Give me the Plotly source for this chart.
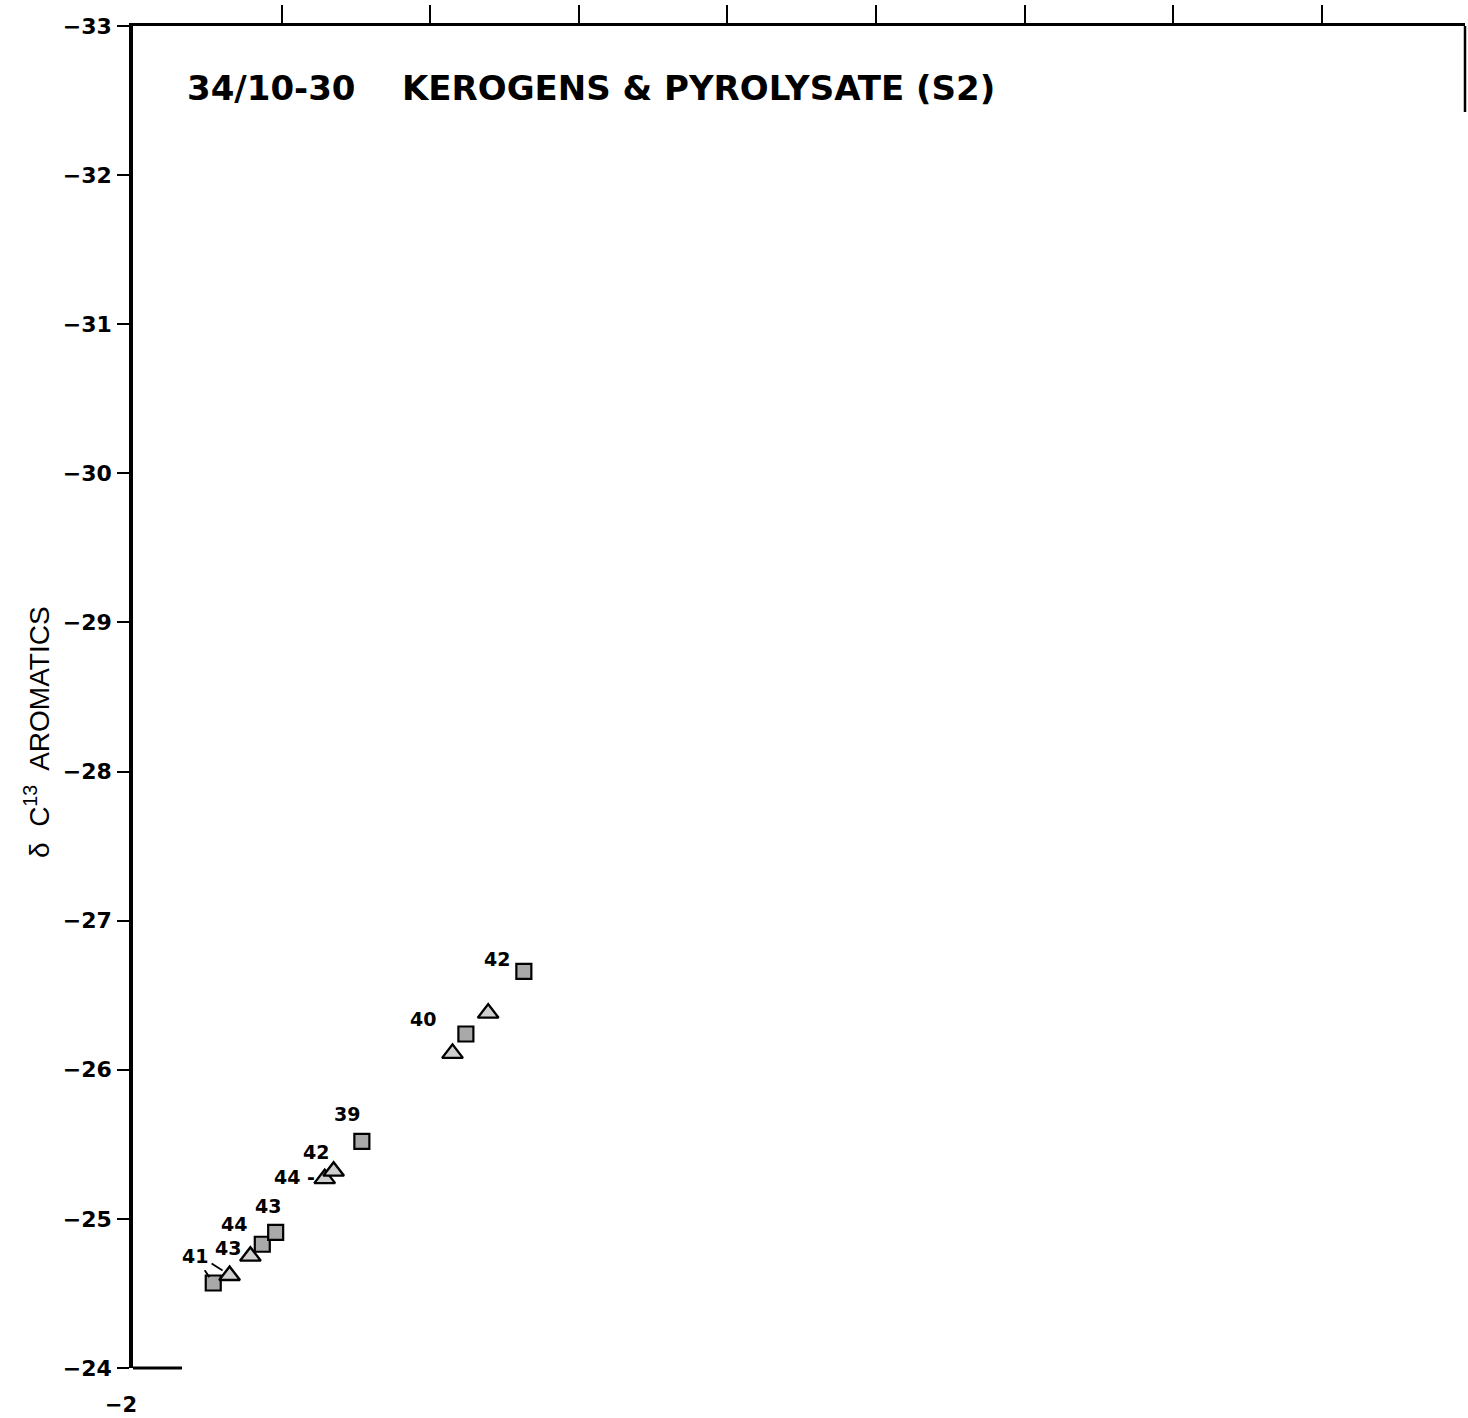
import plotly.graph_objects as go

# ---- data ----
square_x = [-24.54, -24.87, -24.96, -25.54, -26.24, -26.63]
square_y = [-24.57, -24.83, -24.91, -25.52, -26.24, -26.66]
square_labels = ["41", "44", "43", "39", "40", "42"]

triangle_x = [-24.65, -24.79, -25.29, -25.35, -26.15, -26.39]
triangle_y = [-24.62, -24.75, -25.27, -25.32, -26.11, -26.38]
triangle_labels = ["", "43", "44 -", "42", "", ""]

y_ticks = [-24, -25, -26, -27, -28, -29, -30, -31, -32, -33]
x_ticks = [-25, -26, -27, -28, -29, -30, -31, -32]

title_left = "34/10-30"
title_right = "KEROGENS & PYROLYSATE (S2)"
y_title = "δ  C<sup>13</sup>  AROMATICS"

# ---- label placement (pixel offsets, style) ----
square_offsets = [(-18, -27), (-28, -20), (-8, -26), (-15, -27), (-43, -15), (-27, -12)]
square_leader = [True, False, False, False, False, False]
triangle_offsets = [(0, 0), (-22, -8), (-30, -2), (-18, -19), (0, 0), (0, 0)]
# short leader segment next to the first triangle (pixel offsets from the point)
tri_leader_seg = (-18, -12, -7, -5)

W, H = 1468, 1418
ML, MR, MT, MB = 133, 3, 26, 50
PW, PH = W - ML - MR, H - MT - MB

fig = go.Figure()
fig.add_trace(go.Scatter(
    x=square_x, y=square_y, mode="markers",
    marker=dict(symbol="square", size=15, color="#a9a9a9",
                line=dict(color="black", width=2.2)),
    showlegend=False, hoverinfo="skip"))
fig.add_trace(go.Scatter(
    x=triangle_x, y=triangle_y, mode="markers",
    marker=dict(symbol="triangle-up", size=18, color="#cfcfcf",
                line=dict(color="black", width=2.4)),
    showlegend=False, hoverinfo="skip"))

label_font = dict(family="DejaVu Sans", size=19, color="black", weight="bold")
annotations = []
for xs, ys, labs, offs, leads in [
        (square_x, square_y, square_labels, square_offsets, square_leader),
        (triangle_x, triangle_y, triangle_labels, triangle_offsets, [False] * 6)]:
    for x, y, t, (dx, dy), lead in zip(xs, ys, labs, offs, leads):
        if not t:
            continue
        if lead:
            annotations.append(dict(
                x=x, y=y, xref="x", yref="y", text=t, showarrow=True,
                ax=dx, ay=dy, arrowhead=0, arrowwidth=1.8, arrowcolor="black",
                standoff=7, startstandoff=2, font=label_font))
        else:
            annotations.append(dict(
                x=x, y=y, xref="x", yref="y", text=t, showarrow=False,
                xshift=dx, yshift=-dy, font=label_font))

annotations.append(dict(
    x=(185 - ML) / PW, y=(H - MB - 88) / PH, xref="paper", yref="paper",
    text=title_left, showarrow=False, xanchor="left", yanchor="middle",
    font=dict(family="DejaVu Sans", size=34, color="black", weight="bold")))
annotations.append(dict(
    x=(400 - ML) / PW, y=(H - MB - 88) / PH, xref="paper", yref="paper",
    text=title_right, showarrow=False, xanchor="left", yanchor="middle",
    font=dict(family="DejaVu Sans", size=34, color="black", weight="bold")))
annotations.append(dict(
    x=(37 - ML) / PW, y=(H - MB - 732) / PH, xref="paper", yref="paper",
    text=y_title, showarrow=False, textangle=-90,
    xanchor="center", yanchor="middle",
    font=dict(family="Liberation Sans", size=28, color="black")))
annotations.append(dict(
    x=(139 - ML) / PW, y=(H - MB - 1405) / PH, xref="paper", yref="paper",
    text="−2", showarrow=False, xanchor="right", yanchor="middle",
    font=dict(family="DejaVu Sans", size=21, color="black", weight="bold")))

sx0, sy0, sx1, sy1 = tri_leader_seg
fig.update_layout(
    width=W, height=H,
    margin=dict(l=ML, r=MR, t=MT, b=MB),
    paper_bgcolor="white", plot_bgcolor="white",
    annotations=annotations,
    shapes=[
        dict(type="line", xref="paper", yref="paper", x0=0, x1=(182 - ML) / PW,
             y0=0, y1=0, line=dict(color="black", width=3)),
        dict(type="line", xref="paper", yref="paper", x0=1, x1=1,
             y0=1, y1=(H - MB - 112) / PH, line=dict(color="black", width=2.5)),
        dict(type="line", xref="x", yref="y", xsizemode="pixel", ysizemode="pixel",
             xanchor=triangle_x[0], yanchor=triangle_y[0],
             x0=sx0, x1=sx1, y0=-sy0, y1=-sy1,
             line=dict(color="black", width=1.8)),
    ],
    xaxis=dict(range=[-24, -32.963], side="top", showline=True, linecolor="black",
               linewidth=2.5, ticks="outside", tickvals=x_ticks, ticklen=18,
               tickwidth=2, tickcolor="black", showticklabels=False,
               showgrid=False, zeroline=False, fixedrange=True),
    yaxis=dict(range=[-24, -33], showline=True, linecolor="black", linewidth=3.5,
               ticks="outside", tickvals=y_ticks, ticklen=12, tickwidth=2,
               tickcolor="black", ticklabelstandoff=1,
               tickfont=dict(family="DejaVu Sans", size=22, color="black",
                             weight="bold"),
               showgrid=False, zeroline=False, fixedrange=True),
)

fig.write_html("out.html")
